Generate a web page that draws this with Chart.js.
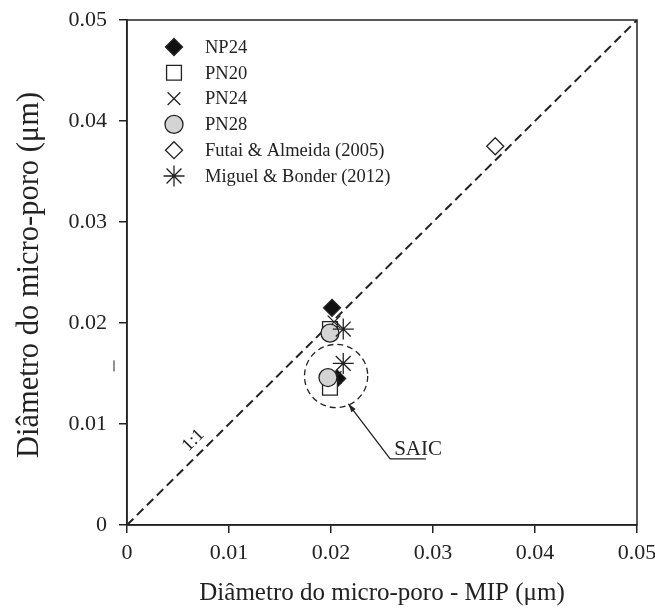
<!DOCTYPE html>
<html>
<head>
<meta charset="utf-8">
<script src="https://cdn.jsdelivr.net/npm/chart.js@4.4.1/dist/chart.umd.min.js"></script>
<style>
  html, body { margin: 0; padding: 0; background: #fff; }
  #wrap { width: 655px; height: 612px; position: relative; }
</style>
</head>
<body>
<div id="wrap"><canvas id="chart"></canvas></div>
<script>
// values (x = MIP, y = micro-pore diameter), in µm
const np24 = [{ x: 0.0201, y: 0.0215 }, { x: 0.0206, y: 0.0145 }]
const pn20 = [{ x: 0.0199, y: 0.0194 }, { x: 0.0199, y: 0.0136 }]
const pn24 = [{ x: 0.0203, y: 0.0201 }, { x: 0.0204, y: 0.0146 }]
const pn28 = [{ x: 0.0199, y: 0.0190 }, { x: 0.0197, y: 0.0146 }]
const futai = [{ x: 0.0361, y: 0.0375 }]
const miguel = [{ x: 0.0212, y: 0.0194 }, { x: 0.0212, y: 0.0160 }]
const oneToOne = [{ x: 0, y: 0 }, { x: 0.05, y: 0.05 }]
const tickValues = [0, 0.01, 0.02, 0.03, 0.04, 0.05]

const serif = "'Liberation Serif', 'DejaVu Serif', serif"

// frame, legend, y title and the notes drawn on top of the plot
const extras = {
    id: 'extras',
    afterDatasetsDraw(chart) {
        const ctx = chart.ctx
        const a = chart.chartArea
        const xs = chart.scales.x
        const ys = chart.scales.y
        ctx.save()
        ctx.strokeStyle = '#222'
        ctx.lineWidth = 1.5
        ctx.strokeRect(a.left, a.top, a.right - a.left, a.bottom - a.top)

        // SAIC dashed circle
        const cx = xs.getPixelForValue(0.0205)
        const cy = ys.getPixelForValue(0.01475)
        const r = xs.getPixelForValue(0.0031) - xs.getPixelForValue(0)
        ctx.lineWidth = 1.3
        ctx.setLineDash([6, 4])
        ctx.beginPath()
        ctx.arc(cx, cy, r, 0, Math.PI * 2)
        ctx.stroke()
        ctx.setLineDash([])

        // arrow + underline
        const tipX = xs.getPixelForValue(0.0217), tipY = ys.getPixelForValue(0.0120)
        const elX = xs.getPixelForValue(0.0258), elY = ys.getPixelForValue(0.00655)
        const endX = xs.getPixelForValue(0.0293)
        ctx.lineWidth = 1.3
        ctx.beginPath()
        ctx.moveTo(endX, elY)
        ctx.lineTo(elX, elY)
        ctx.lineTo(tipX, tipY)
        ctx.stroke()
        const ang = Math.atan2(tipY - elY, tipX - elX)
        ctx.fillStyle = '#222'
        ctx.beginPath()
        ctx.moveTo(tipX, tipY)
        ctx.lineTo(tipX - 9 * Math.cos(ang - 0.3), tipY - 9 * Math.sin(ang - 0.3))
        ctx.lineTo(tipX - 9 * Math.cos(ang + 0.3), tipY - 9 * Math.sin(ang + 0.3))
        ctx.closePath()
        ctx.fill()

        ctx.fillStyle = '#222'
        ctx.font = '21px ' + serif
        ctx.textAlign = 'left'
        ctx.textBaseline = 'alphabetic'
        ctx.fillText('SAIC', elX + 4, elY - 4)

        // 1:1 label
        ctx.save()
        ctx.translate(xs.getPixelForValue(0.0065), ys.getPixelForValue(0.0084))
        ctx.rotate(-Math.PI / 4)
        ctx.font = '18px ' + serif
        ctx.textAlign = 'center'
        ctx.textBaseline = 'middle'
        ctx.fillText('1:1', 0, 0)
        ctx.restore()

        // y axis title
        ctx.save()
        ctx.translate(30, 275)
        ctx.rotate(-Math.PI / 2)
        ctx.font = '30.5px ' + serif
        ctx.textAlign = 'center'
        ctx.textBaseline = 'middle'
        ctx.fillText('Diâmetro do micro-poro (μm)', 0, 0)
        ctx.restore()

        // small stray tick left of the y axis
        ctx.lineWidth = 1
        ctx.beginPath()
        ctx.moveTo(a.left - 13, ys.getPixelForValue(0.0163))
        ctx.lineTo(a.left - 13, ys.getPixelForValue(0.0152))
        ctx.stroke()

        // legend
        const lx = 174
        let ly = 47
        ctx.font = '18.5px ' + serif
        ctx.textAlign = 'left'
        ctx.textBaseline = 'middle'
        chart.data.datasets.forEach(ds => {
            if (!ds.label) return
            ctx.fillStyle = ds.backgroundColor
            ctx.strokeStyle = ds.borderColor
            ctx.lineWidth = ds.borderWidth
            Chart.helpers.drawPoint(ctx, {
                pointStyle: ds.pointStyle,
                radius: ds.pointRadius,
                borderWidth: ds.borderWidth,
                rotation: 0
            }, lx, ly)
            ctx.fillStyle = '#222'
            ctx.fillText(ds.label, 205, ly + 1)
            ly += 25.8
        })
        ctx.restore()
    }
}

const pointSet = (label, data, style, radius, fill, order) => ({
    type: 'scatter',
    label: label,
    data: data,
    pointStyle: style,
    pointRadius: radius,
    pointHoverRadius: radius,
    backgroundColor: fill,
    borderColor: '#222',
    borderWidth: 1.3,
    order: order
})

new Chart(document.getElementById('chart'), {
    data: {
        datasets: [
            pointSet('NP24', np24, 'rectRot', 8.5, '#111', 6),
            pointSet('PN20', pn20, 'rect', 10.5, '#fff', 5),
            pointSet('PN24', pn24, 'crossRot', 9, '#222', 4),
            pointSet('PN28', pn28, 'circle', 9, '#d4d4d4', 2),
            pointSet('Futai & Almeida (2005)', futai, 'rectRot', 8.5, '#fff', 3),
            pointSet('Miguel & Bonder (2012)', miguel, 'star', 10.5, '#222', 1),
            {
                type: 'line',
                label: '',
                data: oneToOne,
                borderColor: '#222',
                borderWidth: 2,
                borderDash: [9, 5],
                pointRadius: 0,
                fill: false,
                order: 7
            }
        ]
    },
    options: {
        responsive: true,
        maintainAspectRatio: false,
        animation: false,
        layout: { padding: { top: 20, right: 18, left: 0, bottom: 0 } },
        plugins: {
            legend: { display: false },
            tooltip: { enabled: false }
        },
        scales: {
            x: {
                type: 'linear',
                min: 0,
                max: 0.05,
                afterBuildTicks: s => { s.ticks = tickValues.map(v => ({ value: v })) },
                afterFit: s => { s.height = 87; s.paddingLeft = 0; s.paddingRight = 0 },
                grid: { display: true, drawOnChartArea: false, drawTicks: true, tickLength: 8, color: '#222', lineWidth: 1.5 },
                border: { display: true, color: '#222', width: 1.5 },
                ticks: {
                    color: '#222',
                    padding: 7,
                    font: { family: serif, size: 22 },
                    callback: v => v === 0 ? '0' : v.toFixed(2)
                },
                title: {
                    display: true,
                    text: 'Diâmetro do micro-poro - MIP (μm)',
                    color: '#222',
                    font: { family: serif, size: 25 },
                    padding: { top: 7 }
                }
            },
            y: {
                type: 'linear',
                min: 0,
                max: 0.05,
                afterBuildTicks: s => { s.ticks = tickValues.map(v => ({ value: v })) },
                afterFit: s => { s.width = 127; s.paddingTop = 0; s.paddingBottom = 0 },
                grid: { display: true, drawOnChartArea: false, drawTicks: true, tickLength: 8, color: '#222', lineWidth: 1.5 },
                border: { display: true, color: '#222', width: 1.5 },
                ticks: {
                    color: '#222',
                    padding: 12,
                    font: { family: serif, size: 22 },
                    callback: v => v === 0 ? '0' : v.toFixed(2)
                },
                title: { display: false }
            }
        }
    },
    plugins: [extras]
})
</script>
</body>
</html>
